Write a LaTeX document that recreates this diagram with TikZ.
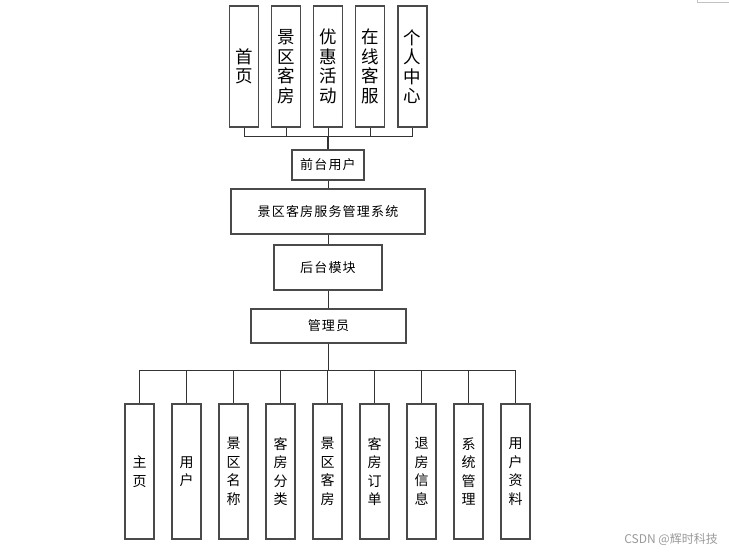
\documentclass[tikz,border=0pt]{standalone}
\usepackage{fontspec}
\newfontfamily\cjk{Noto Sans CJK SC}
\newfontfamily\cjkls[LetterSpace=9]{Noto Sans CJK SC}
\definecolor{boxgray}{HTML}{4A4A4A}
\definecolor{linegray}{HTML}{333333}
\definecolor{wm}{HTML}{9A9A9A}
\begin{document}
\begin{tikzpicture}[x=1pt,y=-1pt,
  box/.style={draw=boxgray, line width=1.1pt, fill=white, inner sep=0pt, align=center},
  topbox/.style={box, minimum width=29pt, minimum height=121pt, font={\cjk\fontsize{17.5}{19.5}\selectfont}},
  botbox/.style={box, minimum width=29pt, minimum height=135pt, font={\cjk\fontsize{14}{18.5}\selectfont}},
  midbox/.style={box, font={\cjkls\fontsize{13}{14}\selectfont}},
  conn/.style={draw=linegray, line width=1pt}]
\useasboundingbox (0,0) rectangle (729,552);
\fill[white] (0,0) rectangle (729,552);
% top boxes
\node[topbox] (t1) at (244,66.5) {首\\页};
\node[topbox] (t2) at (286,66.5) {景\\区\\客\\房};
\node[topbox] (t3) at (328,66.5) {优\\惠\\活\\动};
\node[topbox] (t4) at (370,66.5) {在\\线\\客\\服};
\node[topbox] (t5) at (412.5,66.5) {个\\人\\中\\心};
% middle
\node[midbox, minimum width=72pt, minimum height=30pt] (fu) at (328,165) {前台用户};
\node[midbox, minimum width=194pt, minimum height=45pt] (sys) at (328,211.5) {景区客房服务管理系统};
\node[midbox, minimum width=108pt, minimum height=45pt] (hm) at (328,267.5) {后台模块};
\node[midbox, minimum width=155pt, minimum height=34pt] (adm) at (328.5,326) {管理员};
% bottom boxes
\node[botbox] (b1) at (139.5,471.5) {主\\页};
\node[botbox] (b2) at (186.5,471.5) {用\\户};
\node[botbox] (b3) at (233.5,471.5) {景\\区\\名\\称};
\node[botbox] (b4) at (280.5,471.5) {客\\房\\分\\类};
\node[botbox] (b5) at (327.5,471.5) {景\\区\\客\\房};
\node[botbox] (b6) at (374.5,471.5) {客\\房\\订\\单};
\node[botbox] (b7) at (421.5,471.5) {退\\房\\信\\息};
\node[botbox] (b8) at (468.5,471.5) {系\\统\\管\\理};
\node[botbox] (b9) at (515.5,471.5) {用\\户\\资\\料};
% top bus
\coordinate (tb) at (328,136);
\draw[conn] (t1.south) |- (t5.south|-tb) -- (t5.south);
\foreach \n in {t2,t3,t4} \draw[conn] (\n.south) -- (\n.south|-tb);
\draw[conn, line width=1.6pt] (tb) -- (fu.north);
% chain
\draw[conn] (fu.south) -- (sys.north);
\draw[conn] (sys.south) -- (hm.north);
\draw[conn] (hm.south) -- (hm.south|-adm.north);
% bottom bus
\coordinate (bb) at (328,370);
\draw[conn] (adm.south-|bb) -- (bb);
\draw[conn] (b1.north) |- (b9.north|-bb) -- (b9.north);
\foreach \n in {b2,b3,b4,b5,b6,b7,b8} \draw[conn] (\n.north) -- (\n.north|-bb);
% watermark
\node[font={\cjk\fontsize{12}{13}\selectfont}, text=wm, anchor=east, inner sep=0pt] (wmk) at (718,539) {CSDN @辉时科技};
% corner mark
\coordinate (c1) at (697,0);
\coordinate (c2) at (697,2.5);
\coordinate (c3) at (729,2.5);
\draw[draw=wm!60, line width=0.8pt] (c1) -- (c2) -- (c3);
\end{tikzpicture}
\end{document}
